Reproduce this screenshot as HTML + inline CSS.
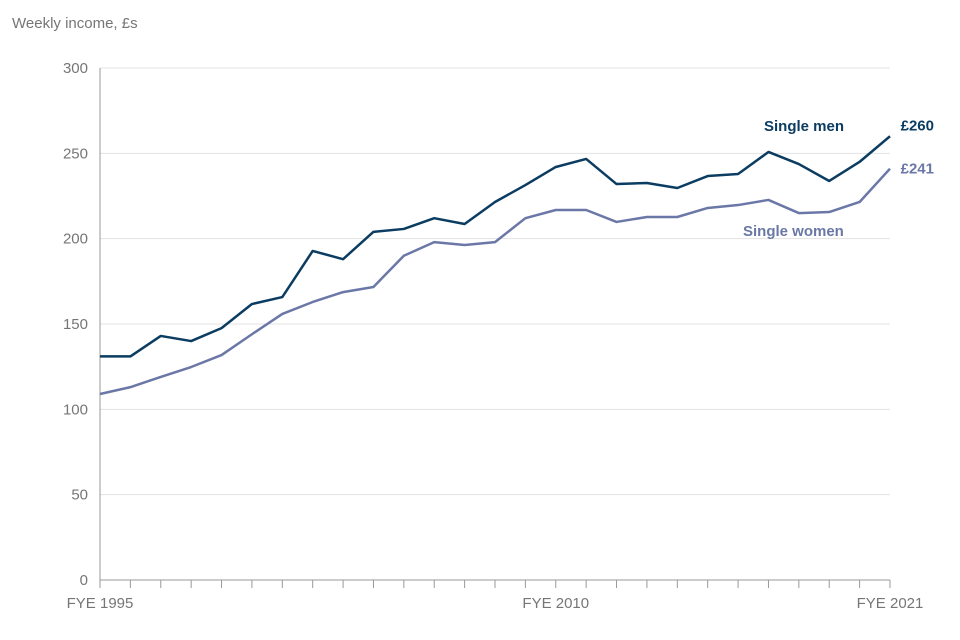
<!DOCTYPE html>
<html><head><meta charset="utf-8"><style>
body{margin:0;background:#fff;font-family:"Liberation Sans",Arial,sans-serif}
svg{display:block}
</style></head><body>
<svg id="chart" width="960" height="640">
<text x="12" y="28" font-size="15" fill="#767676">Weekly income, £s</text>
<g id="grid"></g><g id="ticks"></g><g id="lines"></g>
<text x="764" y="131" font-size="15" font-weight="bold" fill="#0b3c61">Single men</text>
<text x="743" y="236" font-size="15" font-weight="bold" fill="#6b78a7">Single women</text>
</svg>
<script>
const years=[];for(let y=1995;y<=2021;y++)years.push(y);
const men=[131,131,143,140,147.6,161.7,165.8,192.8,188,204,205.7,212,208.6,221.5,231.4,242,246.7,232,232.6,229.7,236.7,237.9,250.8,243.7,233.8,245,260];
const women=[109,113,119,124.8,131.8,144,155.9,162.9,168.7,171.7,190,198,196.3,198,212,216.8,216.8,209.8,212.7,212.7,218,219.7,222.7,215,215.6,221.5,241];
const yTicks=[0,50,100,150,200,250,300];
const xLabels={1995:"FYE 1995",2010:"FYE 2010",2021:"FYE 2021"};
const NS="http://www.w3.org/2000/svg";
const X=y=>100+(y-1995)*(790/26), Y=v=>580-v*(512/300);
function mk(t,a,p){const e=document.createElementNS(NS,t);for(const k in a)e.setAttribute(k,a[k]);p.appendChild(e);return e;}
const grid=document.getElementById('grid'),ticks=document.getElementById('ticks'),lines=document.getElementById('lines');
yTicks.forEach(v=>{
 if(v>0){const g=mk('line',{x1:100,x2:890,y1:Y(v),y2:Y(v),stroke:'#e3e3e3','stroke-width':1},grid);
 
 }
 const t=mk('text',{x:88,y:Y(v)+5,'text-anchor':'end','font-size':15,fill:'#767676'},ticks);t.textContent=v;
 
 
});
const ax=mk('line',{x1:100,x2:100,y1:68,y2:580,stroke:'#999'},ticks);


const bx=mk('line',{x1:100,x2:890,y1:580,y2:580,stroke:'#999'},ticks);


years.forEach(y=>{
 const tk=mk('line',{x1:X(y),x2:X(y),y1:580,y2:588,stroke:'#999'},ticks);
 
 
 if(xLabels[y]){const t=mk('text',{x:X(y),y:608,'text-anchor':'middle','font-size':15,fill:'#767676'},ticks);t.textContent=xLabels[y];
 
 }
});
function series(d,c,name,lab,ly){
 const p=mk('polyline',{points:d.map((v,i)=>X(years[i])+','+Y(v)).join(' '),fill:'none',stroke:c,'stroke-width':2.5,'stroke-linejoin':'round'},lines);
 
 
 const t=mk('text',{x:934,y:Y(d[d.length-1])+ly,'text-anchor':'end','font-size':15,'font-weight':'bold',fill:c},lines);t.textContent=lab;
 
 
}
series(men,'#0b3c61','single-men-line','£'+Math.round(men[men.length-1]),-6);
series(women,'#6b78a7','single-women-line','£'+Math.round(women[women.length-1]),5);
</script>
</body></html>
